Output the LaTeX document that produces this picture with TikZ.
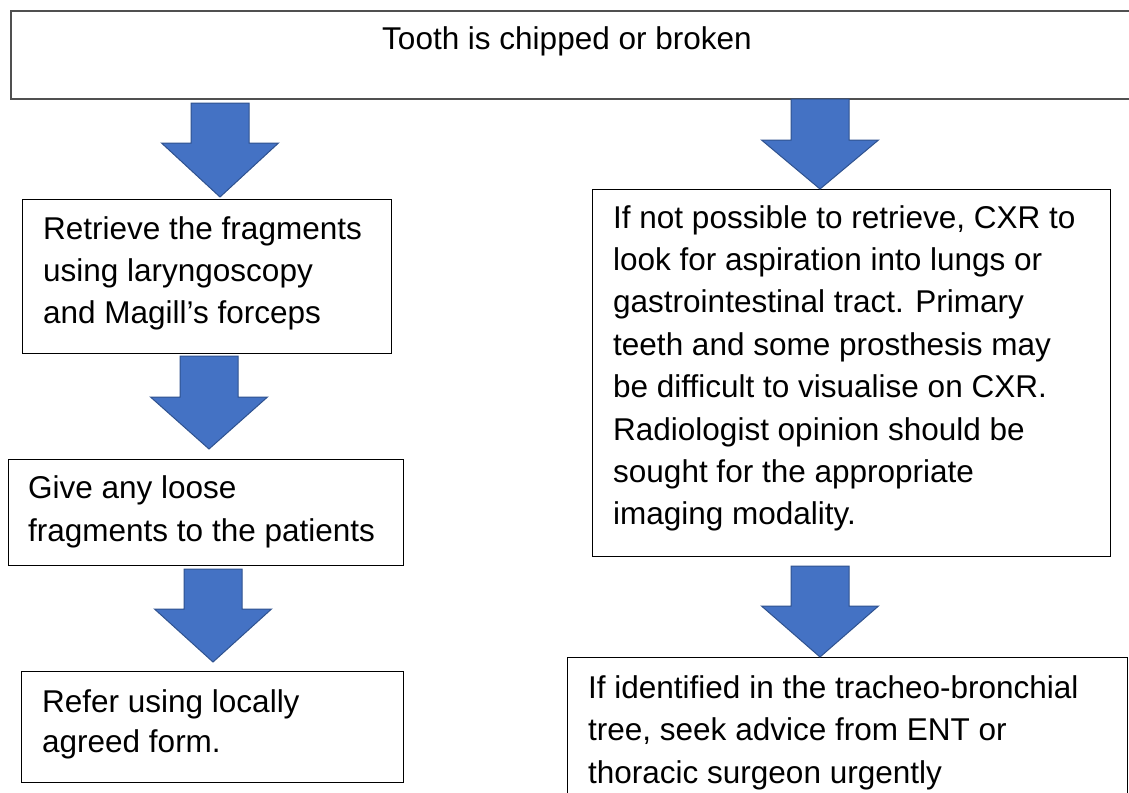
\documentclass[tikz,border=0pt]{standalone}
\usepackage{fontspec}
\setmainfont{Liberation Sans}
\definecolor{arrowblue}{HTML}{4472C4}
\definecolor{arrowedge}{HTML}{2F528F}
\definecolor{topline}{HTML}{505050}
\newcommand{\blockarrow}[4]{% center x, shaft top, head base, tip
  \draw[barrow] ({#1-29},#2) -- ({#1+29},#2) -- ({#1+29},#3) -- ({#1+58.5},#3)
    -- (#1,#4) -- ({#1-58.5},#3) -- ({#1-29},#3) -- cycle;}
\begin{document}
\begin{tikzpicture}[x=1pt,y=-1pt,
  box/.style={draw=black, line width=1.3pt, inner sep=0pt, anchor=north west},
  topbox/.style={draw=topline, line width=2pt, inner sep=0pt, anchor=north west},
  barrow/.style={fill=arrowblue, draw=arrowedge, line width=1pt, line join=miter},
  txt/.style={anchor=base west, inner sep=0pt}]
\useasboundingbox (0,0) rectangle (1129,792);
\clip (0,0) rectangle (1129,792);
\fill[white] (0,0) rectangle (1129,792);

% boxes
\node[topbox, minimum width=1140pt, minimum height=88pt] (top) at (10,10) {};
\node[box, minimum width=369pt, minimum height=154pt] (b1) at (22,199) {};
\node[box, minimum width=395pt, minimum height=106pt] (b2) at (8,459) {};
\node[box, minimum width=382pt, minimum height=111pt] (b3) at (21,671) {};
\node[box, minimum width=518pt, minimum height=367pt] (r1) at (592,189) {};
\node[box, minimum width=560pt, minimum height=180pt] (r2) at (567,657) {};

% texts
\node[txt] (ttop) at (382,49) {\fontsize{31.5}{42}\selectfont Tooth is chipped or broken};
\node[txt] (t1) at (43,239) {\parbox[t]{360pt}{\fontsize{31.5}{42}\selectfont\raggedright
  Retrieve the fragments\\ using laryngoscopy\\ and Magill’s forceps}};
\node[txt] (t2) at (28,498) {\parbox[t]{380pt}{\fontsize{31.5}{43.5}\selectfont\raggedright
  Give any loose\\ fragments to the patients}};
\node[txt] (t3) at (42,712) {\parbox[t]{360pt}{\fontsize{31.5}{40.5}\selectfont\raggedright
  Refer using locally\\ agreed form.}};
\node[txt] (tr1) at (613,228) {\parbox[t]{500pt}{\fontsize{31.5}{42.4}\selectfont\raggedright
  If not possible to retrieve, CXR to\\ look for aspiration into lungs or\\
  gastrointestinal tract. Primary\\ teeth and some prosthesis may\\
  be difficult to visualise on CXR.\\ Radiologist opinion should be\\
  sought for the appropriate\\ imaging modality.}};
\node[txt] (tr2) at (588,698) {\parbox[t]{540pt}{\fontsize{31.5}{42.5}\selectfont\raggedright
  If identified in the tracheo-bronchial\\ tree, seek advice from ENT or\\
  thoracic surgeon urgently}};

% block arrows
\blockarrow{220}{103}{143}{197}
\blockarrow{209}{356}{397}{449}
\blockarrow{213}{569}{609}{662}
\blockarrow{820}{99}{140}{189}
\blockarrow{820}{566}{606}{657}
\end{tikzpicture}
\end{document}
